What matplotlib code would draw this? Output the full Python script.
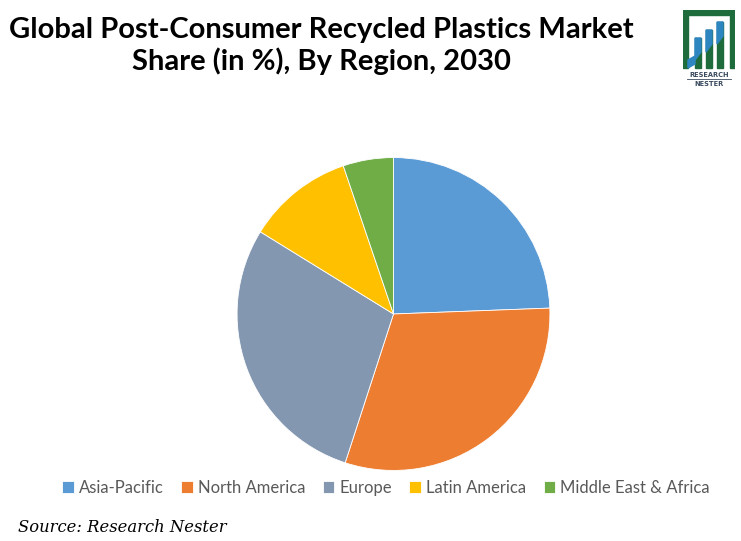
import matplotlib
matplotlib.use("Agg")
import matplotlib.pyplot as plt
from matplotlib.patches import Rectangle, Polygon

# data
regions = ['Asia-Pacific', 'North America', 'Europe', 'Latin America', 'Middle East & Africa']
shares = [24.4, 30.6, 28.8, 11.0, 5.2]
colors = ['#5B9BD5', '#ED7D31', '#8497B0', '#FFC000', '#70AD47']

title = 'Global Post-Consumer Recycled Plastics Market\nShare (in %), By Region, 2030'
source = 'Source: Research Nester'

W, H = 741, 541
fig = plt.figure(figsize=(W / 100, H / 100), dpi=100)
fig.patch.set_facecolor('white')

# pie axes: centre ~(393, 314) px, radius ~158 px
cx, cy, r = 393.5, 314, 158
ax = fig.add_axes([(cx - r) / W, 1 - (cy + r) / H, 2 * r / W, 2 * r / H])
wedges, _ = ax.pie(shares, colors=colors, startangle=90, counterclock=False,
                   wedgeprops=dict(edgecolor='white', linewidth=0.6))
ax.set_xlim(-1.01, 1.01)
ax.set_ylim(-1.01, 1.01)
ax.set_aspect('equal')
ax.axis('off')

fig.text(321 / W, 1 - 46 / H, title, ha='center', va='center', fontsize=21,
         fontweight='bold', family='Lato', color='black', linespacing=1.2)

leg = fig.legend(wedges, regions, loc='center', bbox_to_anchor=(386 / W, 1 - 488 / H),
                 ncol=5, frameon=False, handlelength=0.7, handleheight=0.7,
                 handletextpad=0.3, columnspacing=1.05,
                 prop={'family': 'Lato', 'size': 12})
for t in leg.get_texts():
    t.set_color('#595959')

fig.text(18 / W, 1 - 527 / H, source, ha='left', va='center', fontsize=11.8,
         family='DejaVu Serif', style='italic', color='black')

# small logo in top right corner
lax = fig.add_axes([683 / W, 1 - 90 / H, 52 / W, 80 / H])
lax.set_xlim(0, 52)
lax.set_ylim(80, 0)
lax.axis('off')
green = '#1E6B3C'
blue = '#2E86C1'
lax.add_patch(Rectangle((0, 0), 52, 5, color=green))
lax.add_patch(Rectangle((0, 0), 5, 58, color=green))
lax.add_patch(Rectangle((47, 0), 5, 58, color=green))
for x0, top in [(12, 28), (23, 20), (34, 12)]:
    lax.add_patch(Rectangle((x0, top), 6, 58 - top, color=green))
    lax.add_patch(Polygon([(x0, top), (x0 + 6, top), (x0 + 6, top + 14), (x0, top + 22)],
                          color=blue))
lax.add_patch(Polygon([(5, 58), (5, 50), (12, 46), (12, 54)], color=blue))
lax.text(26, 65, 'RESEARCH', ha='center', va='center', fontsize=4.8,
         fontweight='bold', color='#3A4A5E', family='DejaVu Sans')
lax.plot([4, 48], [69, 69], color='#3A4A5E', lw=0.6)
lax.text(26, 74, 'NESTER', ha='center', va='center', fontsize=4.8,
         fontweight='bold', color='#3A4A5E', family='DejaVu Sans')

fig.savefig('out.png', dpi=100)
